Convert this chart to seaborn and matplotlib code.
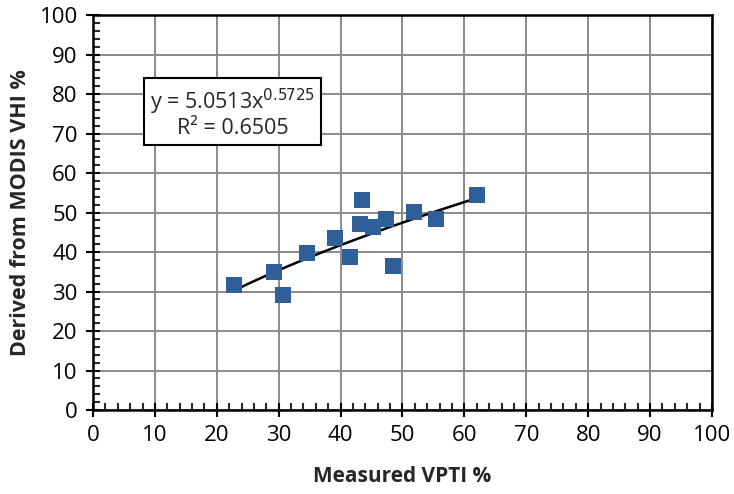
import numpy as np
import pandas as pd
import matplotlib
matplotlib.use("Agg")
import matplotlib.pyplot as plt
from matplotlib.ticker import MultipleLocator
import seaborn as sns

# Data
measured_vpti = [22.7, 29.2, 30.7, 34.6, 39.1, 41.6, 43.5, 43.2, 45.2, 47.3, 48.5, 51.8, 55.4, 62.1]
derived_vhi = [31.6, 35.0, 29.1, 39.8, 43.6, 38.7, 53.1, 47.2, 46.3, 48.4, 36.5, 50.1, 48.4, 54.4]

# power trendline shown on the chart
coef_a = 5.0513
coef_b = 0.5725
r_squared = 0.6505

df = pd.DataFrame({"x": measured_vpti, "y": derived_vhi})

sns.set_style("white")
plt.rcParams["font.family"] = ["Open Sans", "DejaVu Sans"]

fig = plt.figure(figsize=(7.34, 4.94), dpi=100)
ax = fig.add_axes([0.1267, 0.170, 0.8433, 0.7996])

ax.grid(True, color="#8a8a8a", linewidth=1.4, zorder=0)
ax.set_axisbelow(True)

xs = np.linspace(min(measured_vpti), max(measured_vpti), 100)
ax.plot(xs, coef_a * xs ** coef_b, color="black", linewidth=1.8, zorder=3)

sns.scatterplot(data=df, x="x", y="y", ax=ax, marker="s", s=140,
                color="#2f5f98", edgecolor="#2f5f98", linewidth=0, zorder=4)

ax.set_xlim(0, 100)
ax.set_ylim(0, 100)
ax.xaxis.set_major_locator(MultipleLocator(10))
ax.yaxis.set_major_locator(MultipleLocator(10))
ax.xaxis.set_minor_locator(MultipleLocator(2))
ax.yaxis.set_minor_locator(MultipleLocator(2))
ax.tick_params(which="major", direction="inout", length=10, width=1.5,
               labelsize=16, colors="black", pad=6)
ax.tick_params(which="minor", direction="in", length=5, width=1.5)
ax.tick_params(axis="x", which="both", bottom=True)
ax.tick_params(axis="y", which="both", left=True)

for sp in ax.spines.values():
    sp.set_color("black")
    sp.set_linewidth(1.8)

ax.set_xlabel("Measured VPTI %", fontsize=15, fontweight="bold", labelpad=14)
ax.set_ylabel("Derived from MODIS VHI %", fontsize=15.5, fontweight="bold", labelpad=6)

ax.text(22.6, 75.2, "y = %.4fx$^{%.4f}$\nR² = %.4f" % (coef_a, coef_b, r_squared),
        ha="center", va="center", fontsize=15.5, linespacing=1.05, zorder=5,
        bbox=dict(boxstyle="square,pad=0.28", facecolor="white", edgecolor="black", linewidth=1.5))

fig.savefig("out.png", dpi=100)
